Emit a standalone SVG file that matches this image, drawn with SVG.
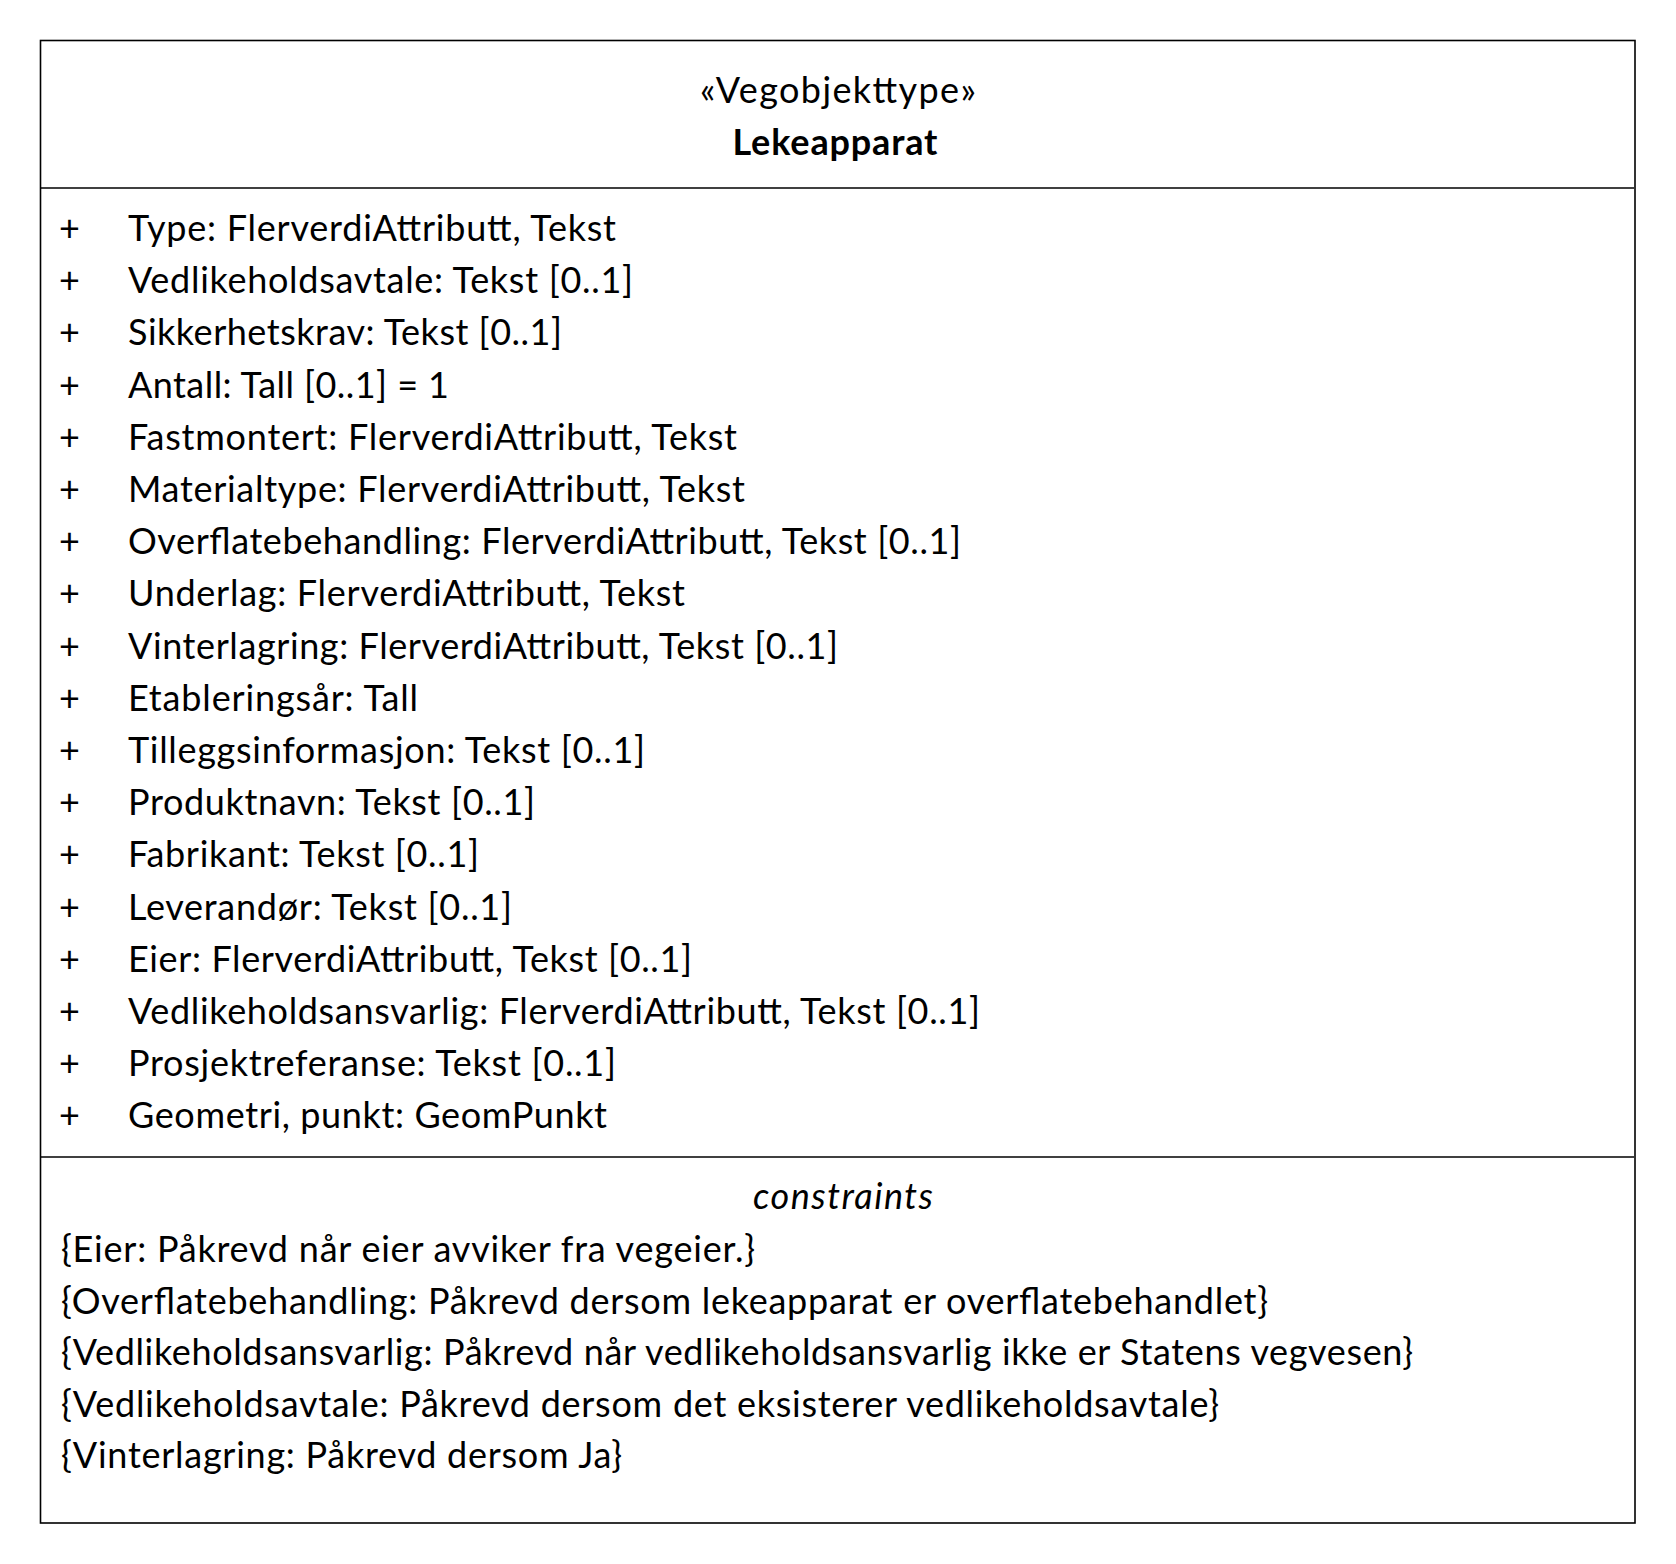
<svg xmlns="http://www.w3.org/2000/svg" width="1676" height="1564" viewBox="0 0 1676 1564">
<style>
.t{font-family:Lato,"Open Sans","Liberation Sans",sans-serif;font-size:36px;fill:#000}
.b{font-weight:bold}
.i{font-style:italic}
.m{text-anchor:middle}
.ln{stroke:#000;stroke-width:1.6;fill:none}
</style>
<rect width="1676" height="1564" fill="#fff"/>
<g id="class-Lekeapparat">
<rect class="ln" x="40.5" y="40.5" width="1594.5" height="1482.5"/>
<line class="ln" x1="40.5" y1="188" x2="1634" y2="188"/>
<line class="ln" x1="40.5" y1="1157" x2="1634" y2="1157"/>
<text class="t m" x="838" y="103" textLength="276">«Vegobjekttype»</text>
<text class="t b m" x="835" y="155" textLength="205">Lekeapparat</text>
<g id="attributes">
<text class="t m" x="69.5" y="241">+</text>
<text class="t" x="128" y="241" textLength="488">Type: FlerverdiAttributt, Tekst</text>
<text class="t m" x="69.5" y="293.2">+</text>
<text class="t" x="128" y="293.2" textLength="505">Vedlikeholdsavtale: Tekst [0..1]</text>
<text class="t m" x="69.5" y="345.4">+</text>
<text class="t" x="128" y="345.4" textLength="434">Sikkerhetskrav: Tekst [0..1]</text>
<text class="t m" x="69.5" y="397.6">+</text>
<text class="t" x="128" y="397.6" textLength="321">Antall: Tall [0..1] = 1</text>
<text class="t m" x="69.5" y="449.8">+</text>
<text class="t" x="128" y="449.8" textLength="609">Fastmontert: FlerverdiAttributt, Tekst</text>
<text class="t m" x="69.5" y="502">+</text>
<text class="t" x="128" y="502" textLength="617">Materialtype: FlerverdiAttributt, Tekst</text>
<text class="t m" x="69.5" y="554.2">+</text>
<text class="t" x="128" y="554.2" textLength="833">Overflatebehandling: FlerverdiAttributt, Tekst [0..1]</text>
<text class="t m" x="69.5" y="606.4">+</text>
<text class="t" x="128" y="606.4" textLength="557">Underlag: FlerverdiAttributt, Tekst</text>
<text class="t m" x="69.5" y="658.6">+</text>
<text class="t" x="128" y="658.6" textLength="710">Vinterlagring: FlerverdiAttributt, Tekst [0..1]</text>
<text class="t m" x="69.5" y="710.8">+</text>
<text class="t" x="128" y="710.8" textLength="290">Etableringsår: Tall</text>
<text class="t m" x="69.5" y="763">+</text>
<text class="t" x="128" y="763" textLength="517">Tilleggsinformasjon: Tekst [0..1]</text>
<text class="t m" x="69.5" y="815.2">+</text>
<text class="t" x="128" y="815.2" textLength="407">Produktnavn: Tekst [0..1]</text>
<text class="t m" x="69.5" y="867.4">+</text>
<text class="t" x="128" y="867.4" textLength="351">Fabrikant: Tekst [0..1]</text>
<text class="t m" x="69.5" y="919.6">+</text>
<text class="t" x="128" y="919.6" textLength="384">Leverandør: Tekst [0..1]</text>
<text class="t m" x="69.5" y="971.8">+</text>
<text class="t" x="128" y="971.8" textLength="564">Eier: FlerverdiAttributt, Tekst [0..1]</text>
<text class="t m" x="69.5" y="1024">+</text>
<text class="t" x="128" y="1024" textLength="852">Vedlikeholdsansvarlig: FlerverdiAttributt, Tekst [0..1]</text>
<text class="t m" x="69.5" y="1076.2">+</text>
<text class="t" x="128" y="1076.2" textLength="488">Prosjektreferanse: Tekst [0..1]</text>
<text class="t m" x="69.5" y="1128.4">+</text>
<text class="t" x="128" y="1128.4" textLength="479">Geometri, punkt: GeomPunkt</text>
</g>
<g id="constraints">
<text class="t i m" x="843" y="1209" textLength="180">constraints</text>
<text class="t" x="61" y="1262" textLength="694">{Eier: Påkrevd når eier avviker fra vegeier.}</text>
<text class="t" x="61" y="1313.6" textLength="1207">{Overflatebehandling: Påkrevd dersom lekeapparat er overflatebehandlet}</text>
<text class="t" x="61" y="1365.2" textLength="1352">{Vedlikeholdsansvarlig: Påkrevd når vedlikeholdsansvarlig ikke er Statens vegvesen}</text>
<text class="t" x="61" y="1416.8" textLength="1158">{Vedlikeholdsavtale: Påkrevd dersom det eksisterer vedlikeholdsavtale}</text>
<text class="t" x="61" y="1468.4" textLength="561">{Vinterlagring: Påkrevd dersom Ja}</text>
</g>
</g>
<g id="connectors"/>
</svg>
